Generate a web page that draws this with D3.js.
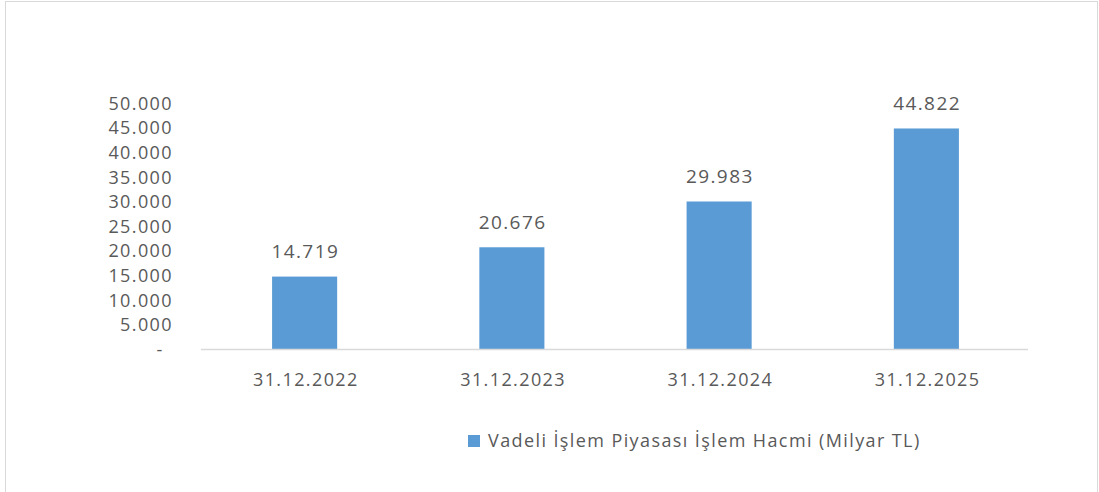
<!DOCTYPE html>
<html>
<head>
<meta charset="utf-8">
<script src="https://cdn.jsdelivr.net/npm/d3@7"></script>
<style>
  body { margin: 0; background: #fff; }
  text { font-family: "Open Sans", sans-serif; fill: #595959; letter-spacing: 1.4px; }
</style>
</head>
<body>
<div id="chart"></div>
<script>
// Chart data
var categories = ["31.12.2022", "31.12.2023", "31.12.2024", "31.12.2025"];
var values = [14719, 20676, 29983, 44822];
var yTicks = [0, 5000, 10000, 15000, 20000, 25000, 30000, 35000, 40000, 45000, 50000];
var seriesName = "Vadeli İşlem Piyasası İşlem Hacmi (Milyar TL)";

var width = 1099, height = 492;
var margin = { top: 103, right: 69, bottom: 143, left: 201 };

var svg = d3.select("#chart").append("svg")
  .attr("width", width)
  .attr("height", height);

// Outer border of the chart area
svg.append("rect")
  .attr("x", 5.5).attr("y", 1.5)
  .attr("width", width - 7).attr("height", height + 10)
  .attr("fill", "none")
  .attr("stroke", "#d9d9d9");

var xScale = d3.scaleBand()
  .domain(categories)
  .range([margin.left, width - margin.right])
  .paddingInner(0.686)
  .paddingOuter(0.343);

var yScale = d3.scaleLinear()
  .domain([0, 50000])
  .range([height - margin.bottom, margin.top]);

// Number formatting with dot as thousands separator
var fmt = function(v) {
  if (v === 0) return "-";
  return d3.format(",")(v).replace(/,/g, ".");
};

// Y axis (no line, no ticks)
var yAxis = d3.axisLeft(yScale).tickValues(yTicks).tickSize(0).tickPadding(0).tickFormat(fmt);
var gy = svg.append("g")
  .attr("transform", "translate(173,0)")
  .call(yAxis);
gy.select(".domain").remove();
gy.selectAll(".tick text")
  .attr("fill", "#595959")
  .style("font-family", "Open Sans, sans-serif")
  .style("font-size", "18px")
  .attr("dy", "0.35em");
gy.selectAll(".tick text").filter(function(d) { return d === 0; })
  .attr("text-anchor", "middle")
  .attr("x", -13);

// Bars
svg.selectAll(".bar")
  .data(values)
  .enter()
  .append("rect")
  .attr("class", "bar")
  .attr("x", function(d, i) { return xScale(categories[i]); })
  .attr("width", xScale.bandwidth())
  .attr("y", function(d) { return yScale(d); })
  .attr("height", function(d) { return yScale(0) - yScale(d); })
  .attr("fill", "#5b9bd5");

// X axis
var xAxis = d3.axisBottom(d3.scalePoint().domain(categories)
  .range([xScale(categories[0]) + xScale.bandwidth() / 2, xScale(categories[3]) + xScale.bandwidth() / 2]))
  .tickSize(0).tickPadding(0);
var gx = svg.append("g")
  .attr("transform", "translate(0," + yScale(0) + ")")
  .call(xAxis);
gx.select(".domain").remove();
gx.selectAll(".tick text")
  .attr("fill", "#595959")
  .style("font-family", "Open Sans, sans-serif")
  .style("font-size", "18px")
  .attr("x", 0.7)
  .attr("y", 31)
  .attr("dy", "0.35em");

svg.append("line")
  .attr("x1", margin.left).attr("x2", width - margin.right - 2)
  .attr("y1", yScale(0) + 0.5).attr("y2", yScale(0) + 0.5)
  .attr("stroke", "#d9d9d9")
  .attr("stroke-width", 1.5);

// Value labels
svg.selectAll(".label")
  .data(values)
  .enter()
  .append("text")
  .attr("class", "label")
  .attr("x", function(d, i) { return xScale(categories[i]) + xScale.bandwidth() / 2 + 0.7; })
  .attr("y", function(d) { return yScale(d) - 25; })
  .attr("dy", "0.35em")
  .attr("text-anchor", "middle")
  .style("font-size", "19px")
  .text(fmt);

// Legend
var legend = svg.append("g").attr("transform", "translate(468,441)");
legend.append("rect")
  .attr("x", 0).attr("y", -6)
  .attr("width", 12).attr("height", 12)
  .attr("fill", "#5b9bd5");
legend.append("text")
  .attr("x", 20)
  .attr("dy", "0.35em")
  .style("font-size", "18px")
  .text(seriesName);
</script>
</body>
</html>
